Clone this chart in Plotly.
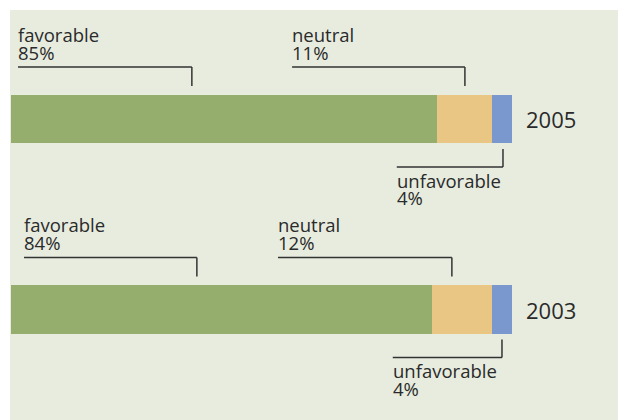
import plotly.graph_objects as go

# ---- data ----
years = ["2005", "2003"]
favorable = [85, 84]
neutral = [11, 12]
unfavorable = [4, 4]
segment_names = ["favorable", "neutral", "unfavorable"]

# ---- style / layout config ----
colors = ["#95ae6e", "#eac684", "#7a97ce"]
bg = "#e7ecdf"
text_color = "#2a2a2a"
line_color = "#333333"
font_family = "Open Sans"
W, H = 618, 420

# pixel geometry of the plot (layout only)
px_left0 = 11.0        # pixel where x=0
px_per_unit = 5.01     # pixels per percent
row_px = 119.0         # pixel centre of first row
row_step = 190.5       # pixels between rows
ml, mt = 10, 10

xr = [(ml - px_left0) / px_per_unit, (W - px_left0) / px_per_unit]
yr = [(H - row_px) / row_step, (mt - row_px) / row_step]

def dy(px):
    return px / row_step

# label anchor positions in axis units (layout)
fav_text_x = [1.4, 2.6]
fav_tick_x = [36.1, 37.1]
neu_text_x = [56.1, 53.3]
neu_tick_x = [90.6, 88.0]
unf_text_x = [77.0, 76.2]
unf_tick_x = [98.2, 98.0]

rows = list(range(len(years)))

fig = go.Figure()
for name, vals, col in zip(segment_names, [favorable, neutral, unfavorable], colors):
    fig.add_trace(go.Bar(
        x=vals, y=rows, orientation="h", name=name,
        marker=dict(color=col, line=dict(width=0)),
        width=0.253, hoverinfo="skip", showlegend=False,
    ))

shapes = []
annotations = []

def text(x, y, s, size=18.5):
    annotations.append(dict(
        x=x, y=y, xref="x", yref="y", text=s, showarrow=False,
        xanchor="left", yanchor="middle", xshift=-2,
        font=dict(family=font_family, size=size, color=text_color),
    ))

def seg(x0, y0, x1, y1):
    shapes.append(dict(type="line", xref="x", yref="y", x0=x0, y0=y0, x1=x1, y1=y1,
                       line=dict(color=line_color, width=1.5)))

for i, r in enumerate(rows):
    # top labels: favorable and neutral
    for tx, kx, name, val in [(fav_text_x[i], fav_tick_x[i], "favorable", favorable[i]),
                              (neu_text_x[i], neu_tick_x[i], "neutral", neutral[i])]:
        text(tx, r + dy(-85), name)
        text(tx, r + dy(-67), f"{val}%")
        seg(tx, r + dy(-52), kx, r + dy(-52))
        seg(kx, r + dy(-52), kx, r + dy(-33))
    # bottom label: unfavorable
    tx, kx = unf_text_x[i], unf_tick_x[i]
    seg(kx, r + dy(30), kx, r + dy(48))
    seg(tx, r + dy(48), kx, r + dy(48))
    text(tx, r + dy(61), "unfavorable")
    text(tx, r + dy(78.5), f"{unfavorable[i]}%")
    # year label
    text(102.8, r, years[i], size=22)

fig.update_layout(
    width=W, height=H,
    margin=dict(l=ml, r=0, t=mt, b=0, pad=0),
    paper_bgcolor="white", plot_bgcolor=bg,
    barmode="stack",
    xaxis=dict(range=xr, visible=False, fixedrange=True),
    yaxis=dict(range=yr, visible=False, fixedrange=True),
    shapes=shapes, annotations=annotations,
    hovermode=False,
)

fig.write_html(
    "out.html",
    config={"displayModeBar": False},
    post_script="document.body.style.margin='0';document.body.style.overflow='hidden';",
)
